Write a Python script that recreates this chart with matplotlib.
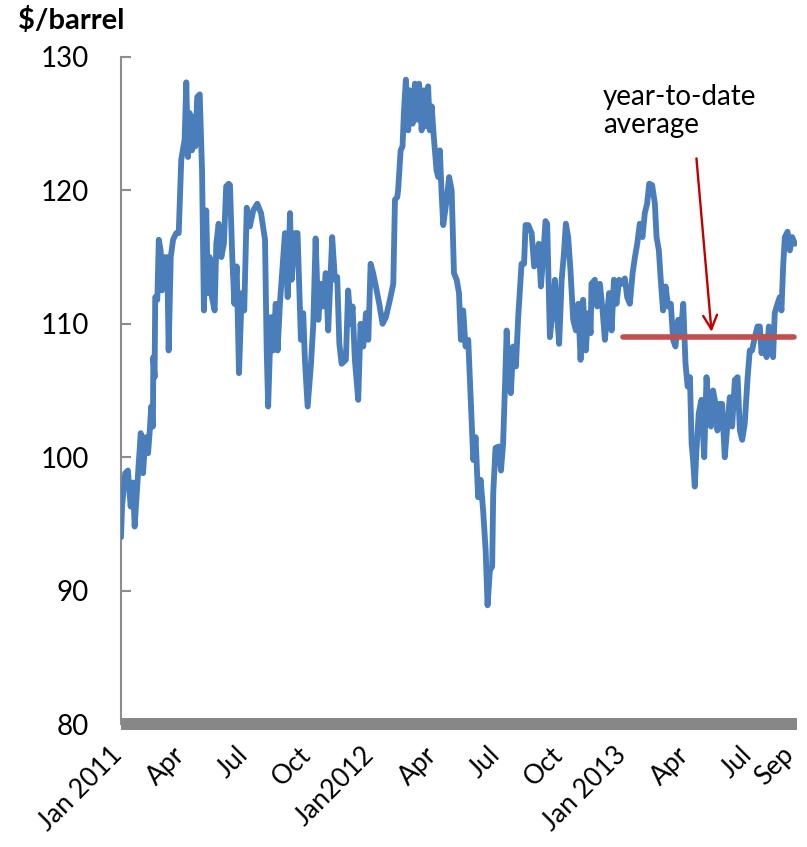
import matplotlib
matplotlib.use("Agg")
import matplotlib.pyplot as plt
from matplotlib.transforms import ScaledTranslation

plt.rcParams['font.family'] = ['Lato', 'DejaVu Sans']

# months since 1 Jan 2011
months = [0.00, 0.05, 0.20, 0.33, 0.46, 0.57, 0.65, 0.73, 0.94, 1.05, 1.16, 1.29, 1.37, 1.44, 1.52, 1.54,
          1.60, 1.63, 1.73, 1.80, 1.89, 1.95, 2.05, 2.11, 2.20, 2.27, 2.37, 2.48, 2.63, 2.75, 2.87, 3.03,
          3.11, 3.19, 3.27, 3.38, 3.48, 3.54, 3.63, 3.75, 3.86, 3.95, 4.06, 4.14, 4.22, 4.33, 4.46, 4.54,
          4.65, 4.78, 4.90, 5.01, 5.13, 5.19, 5.30, 5.40, 5.51, 5.62, 5.75, 5.87, 5.99, 6.14, 6.30, 6.49,
          6.67, 6.86, 6.94, 7.01, 7.14, 7.25, 7.37, 7.46, 7.57, 7.73, 7.81, 7.94, 8.05, 8.13, 8.29, 8.41,
          8.57, 8.68, 8.76, 8.89, 9.05, 9.16, 9.27, 9.40, 9.52, 9.63, 9.75, 9.87, 10.06, 10.19, 10.30, 10.40,
          10.51, 10.71, 10.82, 10.94, 11.03, 11.14, 11.30, 11.41, 11.54, 11.67, 11.78, 11.89, 12.01, 12.14,
          12.30, 12.46, 12.62, 12.81, 12.97, 13.05, 13.16, 13.20, 13.32, 13.41, 13.48, 13.57, 13.68, 13.76,
          13.89, 14.00, 14.11, 14.20, 14.32, 14.43, 14.56, 14.63, 14.71, 14.80, 14.90, 15.03, 15.11, 15.19,
          15.27, 15.35, 15.51, 15.63, 15.75, 15.86, 15.99, 16.10, 16.19, 16.30, 16.41, 16.54, 16.67, 16.78,
          16.89, 17.01, 17.13, 17.25, 17.37, 17.46, 17.57, 17.68, 17.73, 17.84, 18.00, 18.10, 18.20, 18.29,
          18.37, 18.48, 18.57, 18.68, 18.81, 18.92, 19.00, 19.08, 19.20, 19.27, 19.40, 19.56, 19.68, 19.80,
          19.90, 20.00, 20.11, 20.22, 20.30, 20.43, 20.56, 20.67, 20.78, 20.87, 20.99, 21.10, 21.19, 21.30,
          21.41, 21.54, 21.67, 21.78, 21.89, 22.01, 22.14, 22.25, 22.37, 22.41, 22.57, 22.68, 22.81, 22.94,
          23.05, 23.16, 23.25, 23.37, 23.48, 23.60, 23.73, 23.84, 24.00, 24.11, 24.24, 24.37, 24.48, 24.59,
          24.71, 24.84, 24.95, 25.06, 25.16, 25.30, 25.43, 25.51, 25.62, 25.71, 25.82, 25.94, 26.06, 26.19,
          26.30, 26.41, 26.54, 26.67, 26.78, 26.89, 26.99, 27.10, 27.18, 27.25, 27.33, 27.41, 27.52, 27.65,
          27.78, 27.89, 28.00, 28.10, 28.20, 28.32, 28.41, 28.52, 28.63, 28.76, 28.89, 29.00, 29.11, 29.24,
          29.37, 29.48, 29.59, 29.71, 29.84, 29.95, 30.06, 30.19, 30.32, 30.43, 30.51, 30.63, 30.75, 30.86,
          30.95, 31.06, 31.14, 31.27, 31.38, 31.46, 31.54, 31.62, 31.75, 31.86, 31.97, 32.10]

price = [94.0, 96.3, 98.8, 99.0, 96.3, 98.1, 94.8, 96.8, 101.8, 98.8, 101.5, 100.3, 102.0, 103.8, 102.3, 107.5,
         106.0, 112.0, 111.8, 116.3, 115.5, 112.5, 115.0, 112.8, 115.0, 108.0, 115.0, 116.3, 116.8, 116.8, 122.3, 123.8,
         128.1, 122.5, 125.8, 123.0, 125.5, 123.3, 127.0, 127.2, 121.5, 111.0, 118.5, 112.3, 115.0, 112.0, 111.0, 116.0,
         117.5, 115.0, 116.0, 120.3, 120.5, 120.4, 115.0, 111.5, 114.3, 106.3, 112.3, 111.0, 118.7, 117.3, 118.5, 119.0,
         118.3, 116.3, 108.0, 103.8, 110.5, 108.0, 111.5, 108.0, 111.5, 115.0, 116.8, 112.0, 118.3, 113.3, 116.8, 116.8,
         108.8, 110.8, 107.3, 103.8, 107.0, 110.0, 116.4, 110.3, 113.0, 111.3, 113.8, 109.5, 116.5, 113.3, 113.5, 108.5,
         107.0, 107.3, 112.5, 110.0, 111.3, 107.3, 104.3, 110.0, 108.3, 110.8, 108.8, 114.5, 113.8, 112.8,
         111.5, 110.0, 110.5, 111.8, 113.0, 119.3, 119.5, 120.0, 123.0, 123.3, 126.0, 128.3, 124.5, 127.5,
         125.0, 128.0, 125.3, 128.0, 124.5, 127.5, 124.8, 127.8, 124.5, 126.3, 124.0, 121.5, 121.0, 123.0,
         119.8, 117.4, 119.3, 121.0, 120.0, 113.8, 113.3, 112.3, 108.8, 111.0, 108.3, 108.8, 104.0, 99.8,
         101.5, 97.0, 98.3, 96.0, 93.0, 88.9, 91.5, 91.8, 97.3, 100.7, 100.8, 99.0, 101.0, 105.3,
         109.5, 105.5, 104.8, 108.3, 106.8, 110.5, 112.5, 114.5, 114.5, 117.4, 117.4, 116.8, 114.3, 114.5,
         116.0, 112.8, 115.0, 117.7, 117.5, 109.0, 111.0, 113.3, 110.5, 108.5, 113.3, 115.3, 117.5, 116.5,
         114.0, 110.3, 109.5, 111.5, 107.3, 111.8, 108.0, 110.8, 109.3, 113.0, 113.3, 111.3, 113.0, 111.0,
         108.8, 110.8, 112.3, 109.5, 113.3, 111.5, 113.3, 113.0, 113.4, 112.0, 111.5, 113.8, 115.0, 116.0,
         117.5, 116.5, 118.3, 119.0, 120.5, 120.4, 119.0, 116.5, 115.5, 113.3, 111.0, 112.8, 111.3, 111.5,
         108.8, 108.3, 110.3, 109.3, 111.5, 107.0, 105.3, 106.0, 101.0, 99.8, 97.8, 100.5, 103.3, 104.3,
         100.0, 106.0, 103.3, 102.3, 105.0, 104.0, 102.0, 104.0, 104.0, 100.0, 102.5, 104.5, 102.3, 105.8,
         106.0, 102.0, 101.3, 102.5, 105.8, 108.0, 108.0, 109.0, 109.8, 109.8, 107.8, 109.0, 107.5, 109.8,
         108.5, 107.5, 110.8, 111.5, 112.0, 111.0, 114.3, 116.5, 116.9, 115.5, 116.5, 116.0]

ytd_start, ytd_end, ytd_avg = 23.9, 32.05, 109.0

tick_pos = [0, 3, 6, 9, 12, 15, 18, 21, 24, 27, 30, 32]
tick_labels = ['Jan 2011', 'Apr', 'Jul', 'Oct', 'Jan2012', 'Apr', 'Jul', 'Oct',
               'Jan 2013', 'Apr', 'Jul', 'Sep']
y_ticks = [80, 90, 100, 110, 120, 130]

fig = plt.figure(figsize=(8.07, 8.47), dpi=100)
ax = fig.add_axes([121/807, 1-724/847, 676/807, 667/847])

ax.plot(months, price, color='#4A7EBB', lw=4.2, solid_joinstyle='round', solid_capstyle='round', zorder=3)
ax.plot([ytd_start, ytd_end], [ytd_avg, ytd_avg], color='#C0504D', lw=4.0,
        solid_capstyle='round', zorder=4)

ax.annotate('', xy=(28.13, 109.4), xytext=(27.41, 122.4),
            arrowprops=dict(arrowstyle='->,head_length=1.0,head_width=0.5',
                            color='#C00000', lw=1.7, shrinkA=0, shrinkB=0),
            zorder=5)
ax.text(22.95, 128.0, 'year-to-date\naverage', fontsize=20, va='top', ha='left',
        linespacing=1.1, color='black')

ax.set_xlim(0, 32.2)
ax.set_ylim(80, 130)
ax.set_yticks(y_ticks)
ax.set_yticklabels([str(v) for v in y_ticks], fontsize=20)
ax.set_xticks(tick_pos)
ax.set_xticklabels(tick_labels, fontsize=19, rotation=45, ha='right')
ax.tick_params(axis='y', direction='in', length=7, width=1.5, color='#8C8C8C', pad=23)
ax.tick_params(axis='x', length=0, pad=13)
offset = ScaledTranslation(6/100, 0, fig.dpi_scale_trans)
for lab in ax.get_xticklabels():
    lab.set_transform(lab.get_transform() + offset)

for s in ['top', 'right']:
    ax.spines[s].set_visible(False)
ax.spines['left'].set_color('#8C8C8C')
ax.spines['left'].set_linewidth(1.5)
ax.spines['bottom'].set_color('#878787')
ax.spines['bottom'].set_linewidth(8.6)
ax.spines['bottom'].set_capstyle('butt')
ax.spines['bottom'].set_zorder(2)

fig.text(18/807, 1-20/847, '$/barrel', fontsize=21, fontweight='bold', va='center', ha='left')

fig.savefig('out.png', dpi=100)
